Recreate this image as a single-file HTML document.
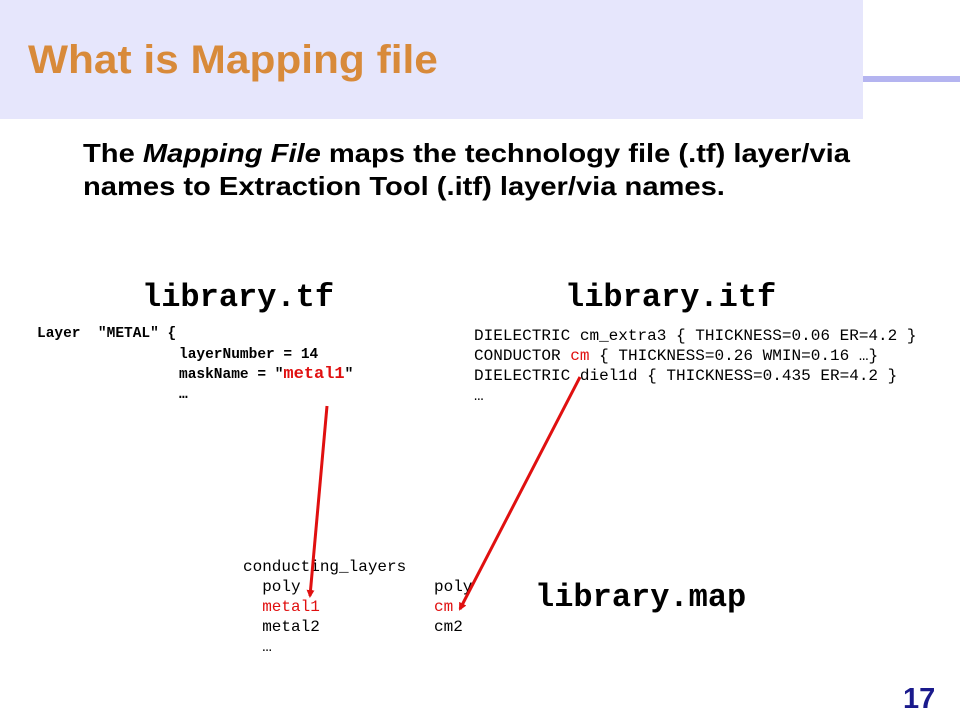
<!DOCTYPE html>
<html><head><meta charset="utf-8"><style>
body{margin:0;width:960px;height:720px;background:#fff;position:relative;overflow:hidden;font-family:"Liberation Sans",sans-serif}
.a{position:absolute;white-space:pre}
.m{font-family:"Liberation Mono",monospace}
.r{color:#e01010}
</style></head><body>
<div class="a" style="left:0;top:0;width:863px;height:119px;background:#e6e6fc"></div>
<div class="a" style="left:863px;top:76px;width:97px;height:6px;background:#b4b4f0"></div>
<div class="a" style="left:28px;top:38px;font-size:40px;font-weight:bold;color:#d88a3a;transform:scaleX(1.06);transform-origin:left top">What is Mapping file</div>
<div class="a" style="left:83px;top:137px;font-size:26px;font-weight:bold;line-height:33px;color:#000;transform:scaleX(1.12);transform-origin:left top">The <i>Mapping File</i> maps the technology file (.tf) layer/via
names to Extraction Tool (.itf) layer/via names.</div>
<div class="a m" style="left:142px;top:279px;font-size:32px;font-weight:bold">library.tf</div>
<div class="a m" style="left:565px;top:279px;font-size:32px;font-weight:bold">library.itf</div>
<div class="a m" style="left:535px;top:579px;font-size:32px;font-weight:bold">library.map</div>
<div class="a m" style="left:37px;top:325px;font-size:14.5px;font-weight:bold;line-height:19px">Layer  "METAL" {</div>
<div class="a m" style="left:179px;top:345px;font-size:14.5px;font-weight:bold;line-height:20px">layerNumber = 14
maskName = "<span class="r" style="font-size:17px">metal1</span>"
…</div>
<div class="a m" style="left:474px;top:326px;font-size:16.05px;line-height:20px">DIELECTRIC cm_extra3 { THICKNESS=0.06 ER=4.2 }
CONDUCTOR <span class="r">cm</span> { THICKNESS=0.26 WMIN=0.16 …}
DIELECTRIC diel1d { THICKNESS=0.435 ER=4.2 }
…</div>
<div class="a m" style="left:243px;top:557px;font-size:16px;line-height:20px">conducting_layers
  poly
  <span class="r">metal1</span>
  metal2
  …</div>
<div class="a m" style="left:434px;top:577px;font-size:16px;line-height:20px">poly
<span class="r">cm</span>
cm2</div>
<div class="a" style="left:903px;top:683px;font-size:29px;font-weight:bold;color:#1a1a8c">17</div>
<svg class="a" style="left:0;top:0" width="960" height="720">
<defs><marker id="h" markerWidth="8" markerHeight="8" refX="6" refY="4" orient="auto" markerUnits="userSpaceOnUse"><path d="M0,0 L8,4 L0,8 z" fill="#e01010"/></marker></defs>
<line x1="327" y1="406" x2="310" y2="596" stroke="#e01010" stroke-width="3" marker-end="url(#h)"/>
<line x1="580" y1="377" x2="460" y2="609" stroke="#e01010" stroke-width="3" marker-end="url(#h)"/>
</svg>
</body></html>
